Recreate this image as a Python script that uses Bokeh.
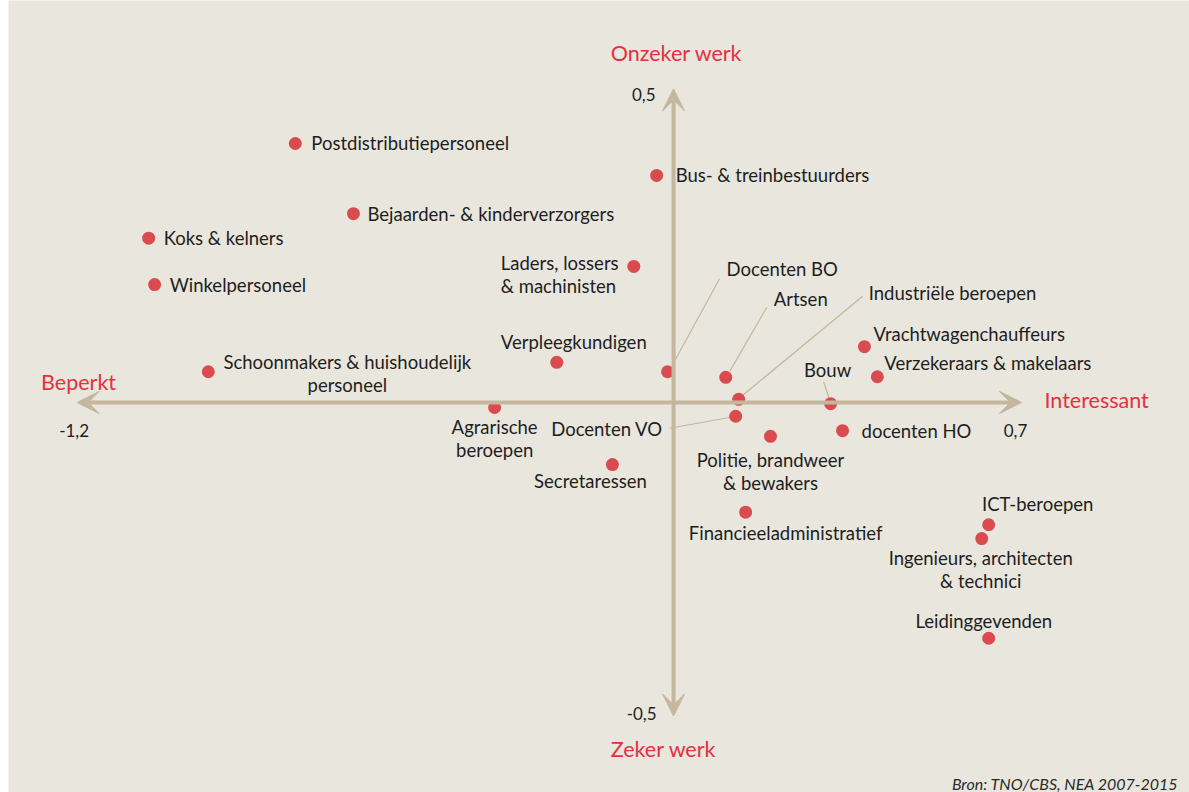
from bokeh.plotting import figure
from bokeh.models import Range1d, Arrow, VeeHead, ColumnDataSource
from bokeh.core.properties import value
from bokeh.embed import file_html
from bokeh.resources import INLINE

# ---------------- data ----------------
names = [
    "Postdistributiepersoneel", "Bus- & treinbestuurders", "Bejaarden- & kinderverzorgers",
    "Koks & kelners", "Winkelpersoneel", "Laders, lossers\n& machinisten",
    "Docenten BO", "Artsen", "Industriële beroepen", "Vrachtwagenchauffeurs",
    "Verzekeraars & makelaars", "Bouw", "Verpleegkundigen",
    "Schoonmakers & huishoudelijk\npersoneel", "Agrarische\nberoepen", "Docenten VO",
    "Politie, brandweer\n& bewakers", "docenten HO", "Secretaressen",
    "Financieeladministratief", "ICT-beroepen", "Ingenieurs, architecten\n& technici",
    "Leidinggevenden",
]
interessant = [-0.761, -0.034, -0.644, -1.056, -1.044, -0.080, -0.012, 0.105, 0.131, 0.384,
               0.410, 0.316, -0.235, -0.936, -0.360, 0.125, 0.195, 0.340, -0.123, 0.145,
               0.634, 0.620, 0.634]
onzeker = [0.413, 0.362, 0.301, 0.262, 0.188, 0.217, 0.049, 0.040, 0.005, 0.089,
           0.041, -0.002, 0.064, 0.049, -0.008, -0.022, -0.054, -0.045, -0.099, -0.175,
           -0.195, -0.217, -0.376]
x_min, x_max = -1.2, 0.7
y_min, y_max = -0.5, 0.5
x_tick_labels = ["-1,2", "0,7"]
y_tick_labels = ["0,5", "-0,5"]
axis_titles = ["Beperkt", "Interessant", "Onzeker werk", "Zeker werk"]
source_note = "Bron: TNO/CBS, NEA 2007-2015"

# ---------------- layout (pixel offsets of labels from their dots) ----------------
label_layout = [
    ("left", 16, 0), ("left", 19, 0), ("left", 14, 0), ("left", 15, 0), ("left", 15, 0),
    ("left", -133, -3), ("left", 59, -103), ("left", 48, -78), ("left", 130, -106),
    ("left", 9, -13), ("left", 7, -14), ("center", -3, -34), ("center", 17, -20),
    ("center", 139, -10), ("center", 0, 20), ("right", -73, 13), ("center", 0, 24),
    ("left", 19, 0), ("center", -22, 16), ("center", 40, 21), ("center", 49, -21),
    ("center", -1, 19), ("center", -5, -17),
]
leaders = {
    "Docenten BO": (6, -9, 52, -93),
    "Artsen": (4, -6, 41, -70),
    "Industriële beroepen": (4, -4, 124, -103),
    "Bouw": (-1, -4, -7, -22),
    "Docenten VO": (-5, 1, -66, 12),
}

BG = "#E8E6DD"
RED_DOT = "#DA4B50"
RED_TXT = "#E5303F"
AXIS_COL = "#C5B69E"
FONT = "Lato"

LEFT_PAD = 8
W, H = 1189, 792
XR = (-1.338, 1.038)
YR = (-0.622, 0.641)
kx = (W - LEFT_PAD) / (XR[1] - XR[0])
ky = H / (YR[1] - YR[0])

p = figure(width=W, height=H, output_backend="svg", toolbar_location=None,
           x_range=Range1d(*XR), y_range=Range1d(*YR), min_border=0,
           min_border_left=LEFT_PAD,
           background_fill_color=BG, border_fill_color="white", outline_line_color=None)
p.axis.visible = False
p.grid.visible = False

# axes arrows
for (xs, ys, xe, ye) in [(x_min, 0, x_max, 0), (0, y_min, 0, y_max)]:
    p.add_layout(Arrow(x_start=xs, y_start=ys, x_end=xe, y_end=ye,
                       line_color=AXIS_COL, line_width=4,
                       start=VeeHead(size=22, fill_color=AXIS_COL, line_color=AXIS_COL),
                       end=VeeHead(size=22, fill_color=AXIS_COL, line_color=AXIS_COL)))

# leader lines
lx0, ly0, lx1, ly1 = [], [], [], []
for n, x, y in zip(names, interessant, onzeker):
    if n in leaders:
        a, b, c, d = leaders[n]
        lx0.append(x + a / kx); ly0.append(y - b / ky)
        lx1.append(x + c / kx); ly1.append(y - d / ky)
p.segment(lx0, ly0, lx1, ly1, line_color=AXIS_COL, line_width=1.2)

# dots
p.scatter(interessant, onzeker, size=13, fill_color=RED_DOT, line_color=None)

# labels (each line separately)
LINE_H = 23
for align in ["left", "center", "right"]:
    tx, ty, tt, ox, oy = [], [], [], [], []
    for n, x, y, (al, dx, dy) in zip(names, interessant, onzeker, label_layout):
        if al != align:
            continue
        for i, line in enumerate(n.split("\n")):
            tx.append(x); ty.append(y); tt.append(line)
            ox.append(dx); oy.append(dy + i * LINE_H)
    if tx:
        src = ColumnDataSource(dict(x=tx, y=ty, t=tt, ox=ox, oy=oy))
        p.text(x="x", y="y", text="t", x_offset="ox", y_offset="oy", source=src,
               text_align=align, text_baseline="middle", text_font=value(FONT),
               text_font_size="18.5px", text_color="#1E1E1E")

# tick labels
tick_specs = [
    (x_min, 0, x_tick_labels[0], "center", -3, 28),
    (x_max, 0, x_tick_labels[1], "center", -6, 28),
    (0, y_max, y_tick_labels[0], "right", -18, 6),
    (0, y_min, y_tick_labels[1], "right", -17, -2),
]
for x, y, t, al, dx, dy in tick_specs:
    p.text(x=[x], y=[y], text=[t], x_offset=dx, y_offset=dy, text_align=al,
           text_baseline="middle", text_font=value(FONT), text_font_size="17px",
           text_color="#1E1E1E")

# axis titles
title_specs = [
    (x_min, 0, axis_titles[0], "left", -36, -20),
    (x_max, 0, axis_titles[1], "left", 23, -2),
    (0, y_max, axis_titles[2], "center", 3, -36),
    (0, y_min, axis_titles[3], "center", -10, 33),
]
for x, y, t, al, dx, dy in title_specs:
    p.text(x=[x], y=[y], text=[t], x_offset=dx, y_offset=dy, text_align=al,
           text_baseline="middle", text_font=value(FONT), text_font_size="21.5px",
           text_color=RED_TXT)

# source note
p.text(x=[XR[1]], y=[YR[0]], text=[source_note], x_offset=-11, y_offset=-9,
       text_align="right", text_baseline="middle", text_font=value(FONT),
       text_font_style="italic", text_font_size="16px", text_color="#2A2A2A")

open("out.html", "w").write(file_html(p, INLINE))
